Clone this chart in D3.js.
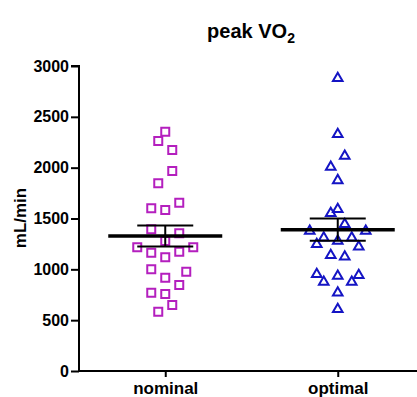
<!DOCTYPE html>
<html>
<head>
<meta charset="utf-8">
<script src="https://cdn.jsdelivr.net/npm/d3@7"></script>
<style>
  html, body { margin: 0; padding: 0; background: #fff; }
  svg { display: block; font-family: "Liberation Sans", Arial, sans-serif; }
</style>
</head>
<body>
<svg id="chart" width="417" height="397"></svg>
<script>
// Groups and their measured peak VO2 values (mL/min)
const categories = ["nominal", "optimal"];

const nominalValues = [2354, 2262, 2174, 1967, 1846, 1600, 1584, 1655,
                       1394, 1354, 1279, 1217, 1164, 1118, 1174, 1217,
                       1000, 918, 977, 770, 757, 846, 583, 649];
// scatter lane of each point (column-scatter spread, in half-marker steps)
const nominalLanes = [0, -1, 1, 1, -1, -2, 0, 2,
                      -2, 2, 0, -4, -2, 0, 2, 4,
                      -2, 0, 3, -2, 0, 2, -1, 1];

const optimalValues = [2889, 2338, 2125, 2016, 1885, 1600, 1561, 1453,
                       1387, 1387, 1321, 1288, 1321, 1256, 1232, 1148,
                       1134, 961, 885, 944, 885, 951, 780, 617];
const optimalLanes = [0, 0, 1, -1, 0, 0, -1, 1,
                      -4, 4, -2, 0, 2, -3, 3, -1,
                      1, -3, -2, 0, 2, 3, 0, 0];

const yTicks = [0, 500, 1000, 1500, 2000, 2500, 3000];

const groups = [
  { name: categories[0], values: nominalValues, lanes: nominalLanes, color: "#b41fbe", shape: "square" },
  { name: categories[1], values: optimalValues, lanes: optimalLanes, color: "#1414c4", shape: "triangle" }
];

const svg = d3.select("#chart");

const y = d3.scaleLinear().domain([0, 3000]).range([371, 66]);
const x = d3.scalePoint().domain(categories).range([79, 424]).padding(0.5);
const laneStep = 7;

// Title
const title = svg.append("text")
  .attr("x", 251).attr("y", 38)
  .attr("text-anchor", "middle")
  .style("font-size", "20px").style("font-weight", "bold");
title.append("tspan").text("peak VO");
title.append("tspan").text("2").attr("dy", 5).style("font-size", "14px");

// Y axis title
svg.append("text")
  .attr("transform", "translate(26,218) rotate(-90)")
  .attr("text-anchor", "middle")
  .style("font-size", "17px").style("font-weight", "bold")
  .text("mL/min");

// Y axis
const yAxis = svg.append("g")
  .attr("transform", "translate(79,0)")
  .call(d3.axisLeft(y).tickValues(yTicks).tickSize(8).tickPadding(2).tickFormat(d3.format("d")));
yAxis.select(".domain").attr("stroke", "#000").attr("stroke-width", 2)
  .attr("d", `M-8,${y(3000)}H0V${y(0)}`);
yAxis.selectAll(".tick line").attr("stroke", "#000").attr("stroke-width", 2);
yAxis.selectAll(".tick text")
  .style("font-size", "16px").style("font-weight", "bold")
  .style("font-family", "'Liberation Sans', Arial, sans-serif")
  .attr("fill", "#000");

// X axis
const xAxis = svg.append("g")
  .attr("transform", `translate(0,${y(0)})`)
  .call(d3.axisBottom(x).tickSize(6).tickPadding(5));
xAxis.select(".domain").attr("stroke", "#000").attr("stroke-width", 2)
  .attr("d", `M78,0H424`);
xAxis.selectAll(".tick line").attr("stroke", "#000").attr("stroke-width", 2);
xAxis.selectAll(".tick text")
  .style("font-size", "17px").style("font-weight", "bold")
  .style("font-family", "'Liberation Sans', Arial, sans-serif")
  .attr("fill", "#000");

// Markers
const sq = d3.symbol().type(d3.symbolSquare).size(64);
const tri = d3.symbol().type(d3.symbolTriangle).size(40);

groups.forEach(g => {
  const pts = g.values.map((v, i) => ({ v, lane: g.lanes[i] }));
  svg.append("g").selectAll("path")
    .data(pts)
    .join("path")
    .attr("d", g.shape === "square" ? sq : tri)
    .attr("transform", d => `translate(${x(g.name) + d.lane * laneStep},${y(d.v) + (g.shape === "triangle" ? 1 : 0)})`)
    .attr("fill", "none")
    .attr("stroke", g.color)
    .attr("stroke-width", 2);
});

// Mean with SEM
groups.forEach(g => {
  const mean = d3.mean(g.values);
  const sem = d3.deviation(g.values) / Math.sqrt(g.values.length);
  const cx = x(g.name);
  const e = svg.append("g").attr("stroke", "#000");
  e.append("line").attr("x1", cx).attr("x2", cx)
    .attr("y1", y(mean + sem)).attr("y2", y(mean - sem)).attr("stroke-width", 2);
  [mean + sem, mean - sem].forEach(v => {
    e.append("line").attr("x1", cx - 28).attr("x2", cx + 28)
      .attr("y1", y(v)).attr("y2", y(v)).attr("stroke-width", 2);
  });
  e.append("line").attr("x1", cx - 57).attr("x2", cx + 57)
    .attr("y1", y(mean)).attr("y2", y(mean)).attr("stroke-width", 3.5);
});
</script>
</body>
</html>
